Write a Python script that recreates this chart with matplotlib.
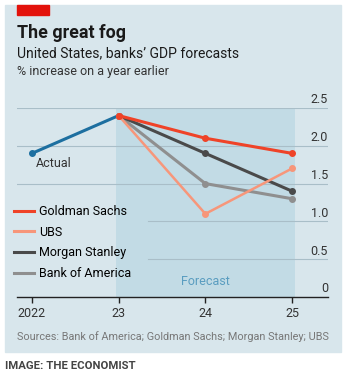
import matplotlib.pyplot as plt
from matplotlib.patches import Rectangle
from matplotlib.lines import Line2D

plt.rcParams['font.family'] = ['Roboto', 'DejaVu Sans']

years_actual = [2022, 2023]
actual = [1.9, 2.4]

years_fc = [2023, 2024, 2025]
goldman = [2.4, 2.1, 1.9]
ubs = [2.4, 1.1, 1.7]
morgan = [2.4, 1.9, 1.4]
bofa = [2.4, 1.5, 1.3]

x_ticks = [2022, 2023, 2024, 2025]
x_labels = ["2022", "23", "24", "25"]
y_ticks = [0, 0.5, 1.0, 1.5, 2.0, 2.5]
y_labels = ["0", "0.5", "1.0", "1.5", "2.0", "2.5"]

bg = "#d8e6ec"
W, H = 350, 379
fig = plt.figure(figsize=(W / 100, H / 100), dpi=100)
fig.patch.set_facecolor("white")

# panel background
fig.patches.append(Rectangle((5 / W, 1 - 352 / H), 336 / W, 347 / H,
                             transform=fig.transFigure, color=bg, zorder=-5))
fig.patches.append(Rectangle((17 / W, 1 - 15 / H), 32 / W, 10 / H,
                             transform=fig.transFigure, color="#e3120b", zorder=-4))

fig.text(17 / W, 1 - 33 / H, "The great fog", fontsize=12.9, fontweight="bold",
         color="#1a1a1a", va="center")
fig.text(17 / W, 1 - 53 / H, "United States, banks\u2019 GDP forecasts", fontsize=10,
         color="#1a1a1a", va="center")
fig.text(17 / W, 1 - 72 / H, "% increase on a year earlier", fontsize=9,
         color="#333333", va="center")
fig.text(17 / W, 1 - 337 / H, "Sources: Bank of America; Goldman Sachs; Morgan Stanley; UBS",
         fontsize=7.8, color="#777777", va="center")
fig.text(5 / W, 1 - 366 / H, "IMAGE: THE ECONOMIST", fontsize=8.2, fontweight="bold",
         color="#444444", va="center")

ax = fig.add_axes([17 / W, 1 - 297 / H, 311 / W, 189 / H])
ax.set_zorder(2)
ax.set_facecolor("none")
ax.set_xlim(2021.827, 2025.415)
ax.set_ylim(0, 2.5)

ax.axvspan(2022.97, 2025.03, color="#c2dbe5", zorder=0, lw=0)

legend_frac = (148 - 17) / 311
for v in y_ticks[1:]:
    start = legend_frac if v < 1.2 else 0
    ax.axhline(v, xmin=start, xmax=1, color="#a9bec8", lw=0.8, zorder=1)

for v, lab in zip(y_ticks, y_labels):
    ax.text(1.0, v + 0.02, lab, transform=ax.get_yaxis_transform(), ha="right",
            va="bottom", fontsize=9, color="#333333")

ax.plot(years_actual, actual, color="#1d6fa0", lw=2.2, marker="o", ms=4,
        markevery=[0], zorder=3, clip_on=False)
ax.plot(years_fc, bofa, color="#8f8f8f", lw=2.2, marker="o", ms=4, zorder=3, clip_on=False)
ax.plot(years_fc, morgan, color="#4a4a4a", lw=2.2, marker="o", ms=4, zorder=3, clip_on=False)
ax.plot(years_fc, ubs, color="#f7967a", lw=1.8, marker="o", ms=4, zorder=4, clip_on=False)
ax.plot(years_fc, goldman, color="#ef4328", lw=2.2, marker="o", ms=4, zorder=5, clip_on=False)

ax.text(2022.04, 1.77, "Actual", fontsize=9, color="#333333", va="center")
ax.text(2024, 0.2, "Forecast", fontsize=9, color="#5a9dc0", ha="center", va="center")

handles = [Line2D([], [], color=c, lw=2.2) for c in ["#ef4328", "#f7967a", "#4a4a4a", "#8f8f8f"]]
names = ["Goldman Sachs", "UBS", "Morgan Stanley", "Bank of America"]
ax.legend(handles, names, loc="upper left", bbox_to_anchor=(-0.01, 0.487),
          frameon=False, fontsize=9, handlelength=1.6, handletextpad=0.4,
          labelspacing=0.62, borderaxespad=0, borderpad=0)

for s in ["top", "right", "left"]:
    ax.spines[s].set_visible(False)
ax.spines["bottom"].set_color("#222222")
ax.spines["bottom"].set_linewidth(1)
ax.set_yticks([])
ax.set_xticks(x_ticks)
ax.set_xticklabels(x_labels, fontsize=9, color="#333333")
ax.tick_params(axis="x", length=4, width=1, color="#222222", pad=3)

fig.savefig("out.png", dpi=100)
